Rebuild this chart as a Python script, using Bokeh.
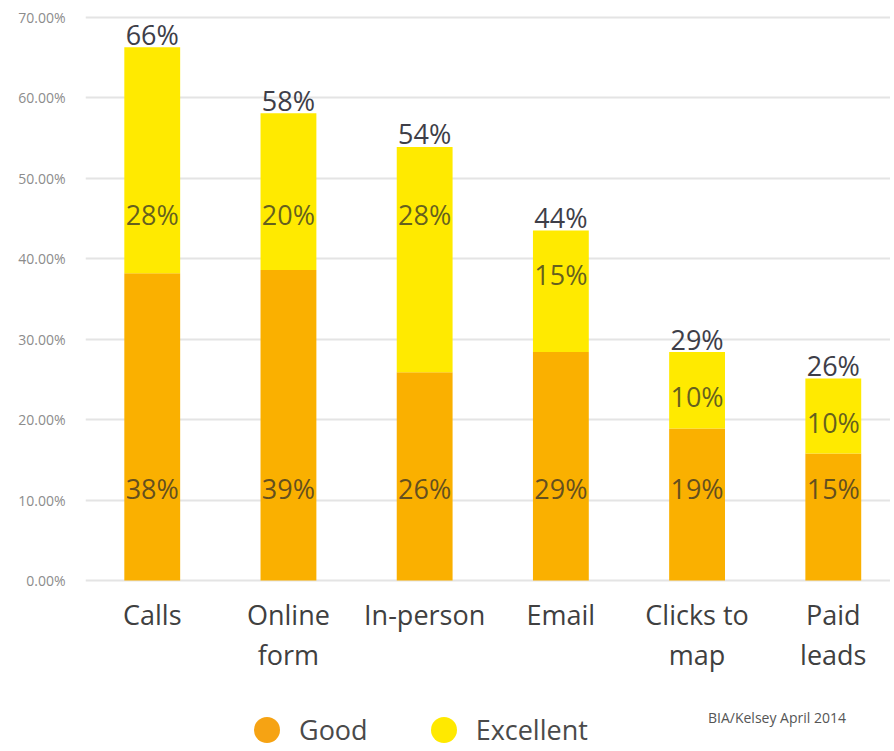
import numpy as np
from bokeh.plotting import figure
from bokeh.models import (ColumnDataSource, Range1d, FixedTicker, PrintfTickFormatter,
                          Legend, LegendItem, Label)
from bokeh.core.properties import value
from bokeh.embed import file_html
from bokeh.resources import INLINE

# ---------------- data ----------------
categories = ["Calls", "Online\nform", "In-person", "Email", "Clicks to\nmap", "Paid\nleads"]
good = [38.2, 38.6, 25.9, 28.4, 18.9, 15.8]
excellent = [28.1, 19.5, 28.0, 15.1, 9.5, 9.3]
good_labels = ["38%", "39%", "26%", "29%", "19%", "15%"]
excellent_labels = ["28%", "20%", "28%", "15%", "10%", "10%"]
total_labels = ["66%", "58%", "54%", "44%", "29%", "26%"]
y_ticks = [0, 10, 20, 30, 40, 50, 60, 70]
series_names = ["Good", "Excellent"]
source_note = "BIA/Kelsey April 2014"

# ---------------- style ----------------
GOOD_COLOR = "#FAB000"
EXC_COLOR = "#FFEA00"
FONT = "Open Sans"

x = np.arange(len(categories))
good_a = np.array(good)
top = good_a + np.array(excellent)

src = ColumnDataSource(dict(
    x=x, good=good_a, top=top, cat=categories,
    good_lab=good_labels, exc_lab=excellent_labels, tot_lab=total_labels,
    good_y=np.full(len(x), 11.45),
    exc_y=np.minimum(top - 5.5, 45.5),
))

p = figure(width=890, height=750,
           x_range=Range1d(-0.49, 5.42), y_range=Range1d(-21.14, 72.11),
           output_backend="svg", toolbar_location=None, x_axis_location=None,
           min_border_left=85, min_border_right=0, min_border_top=0, min_border_bottom=0)
p.outline_line_color = None
p.background_fill_color = "white"
p.xgrid.visible = False

ax = p.yaxis[0]
ax.ticker = FixedTicker(ticks=y_ticks)
ax.formatter = PrintfTickFormatter(format="%.2f%%")
ax.axis_line_color = None
ax.major_tick_line_color = None
ax.minor_tick_line_color = None
ax.major_tick_out = 0
ax.major_tick_in = 0
ax.major_label_standoff = 20
ax.major_label_text_font = FONT
ax.major_label_text_font_size = "14px"
ax.major_label_text_color = "#8c8c8c"

p.ygrid.grid_line_color = "#e4e4e4"
p.ygrid.grid_line_width = 2

p.vbar(x="x", bottom=0, top="good", width=0.41, fill_color=GOOD_COLOR, line_color=None, source=src)
p.vbar(x="x", bottom="good", top="top", width=0.41, fill_color=EXC_COLOR, line_color=None, source=src)

p.text(x="x", y="good_y", text="good_lab", source=src, text_align="center", text_baseline="middle",
       text_font=value(FONT), text_font_size="27px", text_color="#2a2a2a", text_alpha=0.72)
p.text(x="x", y="exc_y", text="exc_lab", source=src, text_align="center", text_baseline="middle",
       text_font=value(FONT), text_font_size="27px", text_color="#2a2a2a", text_alpha=0.72)
p.text(x="x", y="top", text="tot_lab", source=src, text_align="center", text_baseline="middle",
       y_offset=-13, text_font=value(FONT), text_font_size="27px", text_color="#3e3e48")

p.text(x="x", y=0, text="cat", source=src, text_align="center", text_baseline="top",
       y_offset=16, text_font=value(FONT), text_font_size="27px", text_color="#404040",
       text_line_height=1.07)

# legend proxies (size 0: only their legend swatches are visible)
r_good = p.scatter(x="x", y="good", source=src, size=0, marker="circle",
                   fill_color="#F6A313", line_color=None)
r_exc = p.scatter(x="x", y="top", source=src, size=0, marker="circle",
                  fill_color="#FFE900", line_color=None)

legend = Legend(items=[LegendItem(label=series_names[0], renderers=[r_good]),
                       LegendItem(label=series_names[1], renderers=[r_exc])],
                orientation="horizontal", location=(149, -12),
                glyph_width=65, glyph_height=65, label_standoff=0, spacing=43,
                padding=0, margin=0, border_line_color=None, background_fill_alpha=0,
                label_text_font=FONT, label_text_font_size="27px", label_text_color="#4a4a4a")
p.add_layout(legend)

p.add_layout(Label(x=4.08, y=-17.0, text=source_note, text_baseline="middle",
                   text_font=FONT, text_font_size="14px", text_color="#555555"))

open("out.html", "w").write(file_html(p, INLINE))
